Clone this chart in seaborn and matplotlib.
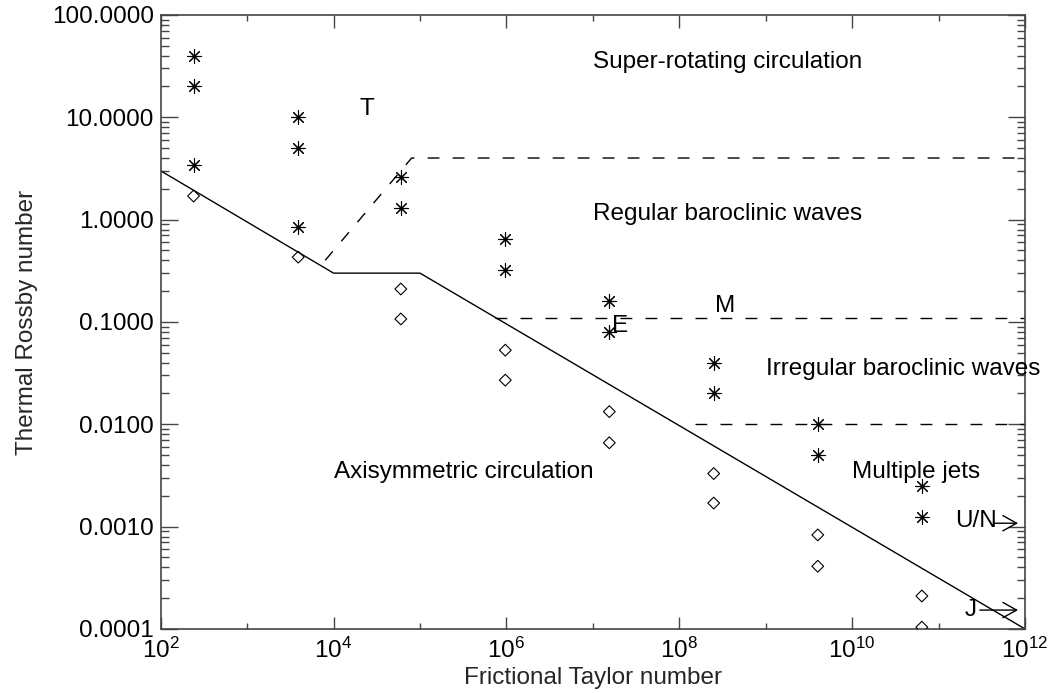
import numpy as np
import pandas as pd
import matplotlib
matplotlib.use("Agg")
import matplotlib.pyplot as plt
import matplotlib.ticker as mticker
import seaborn as sns

# ---- data ----
col_x = [2.4e2, 3.9e3, 6.0e4, 9.7e5, 1.55e7, 2.5e8, 4.0e9, 6.4e10]
star_hi = [40.0, 10.0, 2.6, 0.64, 0.16, 0.040, 0.010, 0.0025]
star_lo = [20.0, 5.0, 1.3, 0.32, 0.080, 0.020, 0.005, 0.00125]
extra_star_x = [2.4e2, 3.9e3]
extra_star_y = [3.4, 0.85]
diam_x = [2.4e2, 3.9e3, 6.0e4, 6.0e4, 9.7e5, 9.7e5, 1.55e7, 1.55e7,
          2.5e8, 2.5e8, 4.0e9, 4.0e9, 6.4e10, 6.4e10]
diam_y = [1.7, 0.43, 0.21, 0.107, 0.053, 0.027, 0.0133, 0.0066,
          0.0033, 0.0017, 0.00083, 0.00041, 0.00021, 0.000104]

# regime boundaries
axi_x = [1e2, 1e4, 1e5, 1e12]
axi_y = [3.0, 0.3, 0.3, 1e-4]
sup_x = [8e3, 8e4, 1e12]
sup_y = [0.4, 4.0, 4.0]
irr_x = [7.4e5, 1e12]
irr_y = [0.11, 0.11]
jet_x = [1.5e8, 1e12]
jet_y = [0.01, 0.01]

x_major = [1e2, 1e4, 1e6, 1e8, 1e10, 1e12]
x_major_labels = [r"$10^{2}$", r"$10^{4}$", r"$10^{6}$", r"$10^{8}$", r"$10^{10}$", r"$10^{12}$"]
x_minor = [1e3, 1e5, 1e7, 1e9, 1e11]
y_major = [1e-4, 1e-3, 1e-2, 1e-1, 1e0, 1e1, 1e2]

labels = ["Super-rotating circulation", "Regular baroclinic waves",
          "Irregular baroclinic waves", "Multiple jets", "Axisymmetric circulation",
          "T", "E", "M", "U/N", "J"]
label_x = [1e7, 1e7, 1e9, 1e10, 1e4, 2.0e4, 1.66e7, 2.6e8, 1.55e11, 2.0e11]
label_y = [30.0, 1.0, 0.03, 0.003, 0.003, 10.5, 0.08, 0.125, 0.001, 0.000135]

arrow_y = [0.00108, 0.000153]
arrow_x0 = [4.3e11, 3.0e11]
arrow_x1 = [8.3e11, 8.3e11]

# ---- style ----
sns.set_style("ticks")
plt.rcParams["font.family"] = ["Liberation Sans", "DejaVu Sans"]
plt.rcParams["mathtext.fontset"] = "custom"
plt.rcParams["mathtext.rm"] = "Liberation Sans"
plt.rcParams["mathtext.it"] = "Liberation Sans"
FS = 17.5

fig = plt.figure(figsize=(10.51, 6.93), dpi=100)
ax = fig.add_axes([0.1529, 0.0924, 0.8224, 0.886])
ax.set_xscale("log")
ax.set_yscale("log")

stars = pd.DataFrame({
    "x": col_x + col_x + extra_star_x,
    "y": star_hi + star_lo + extra_star_y,
})
diam = pd.DataFrame({"x": diam_x, "y": diam_y})

lk = dict(color="black", lw=1.0, sort=False, estimator=None)
sns.lineplot(x=axi_x, y=axi_y, ax=ax, **lk)
for xs, ys in [(sup_x, sup_y), (irr_x, irr_y), (jet_x, jet_y)]:
    sns.lineplot(x=xs, y=ys, ax=ax, linestyle=(0, (8.5, 9.5)), **lk)

sns.scatterplot(data=stars, x="x", y="y", ax=ax, marker=(8, 2, 0), s=95,
                color="black", linewidth=0.8, zorder=5)
sns.scatterplot(data=diam, x="x", y="y", ax=ax, marker="D", s=36,
                facecolor="none", edgecolor="black", linewidth=0.8, zorder=5)

for t, x, y in zip(labels, label_x, label_y):
    ax.text(x, y, t, fontsize=FS, ha="left", va="baseline", color="black")

for y, x0, x1 in zip(arrow_y, arrow_x0, arrow_x1):
    ax.annotate("", xy=(x1, y), xytext=(x0, y),
                arrowprops=dict(arrowstyle="->,head_length=0.45,head_width=0.25",
                                lw=1.0, color="black",
                                mutation_scale=22, shrinkA=0, shrinkB=0))

ax.set_xlim(1e2, 1e12)
ax.set_ylim(1e-4, 1e2)
ax.set_xticks(x_major)
ax.set_xticklabels(x_major_labels)
ax.set_xticks(x_minor, minor=True)
ax.xaxis.set_minor_formatter(mticker.NullFormatter())
ax.set_yticks(y_major)
ax.yaxis.set_major_formatter(mticker.FormatStrFormatter("%.4f"))
ax.yaxis.set_minor_locator(mticker.LogLocator(base=10, subs=np.arange(2, 10), numticks=20))
ax.yaxis.set_minor_formatter(mticker.NullFormatter())

ax.tick_params(axis="both", which="both", direction="in", top=True, right=True,
               colors="#444444", labelcolor="black", width=1.0, labelsize=FS)
ax.tick_params(axis="x", which="major", length=9, pad=6)
ax.tick_params(axis="x", which="minor", length=4.5)
ax.tick_params(axis="y", which="major", length=12, pad=5)
ax.tick_params(axis="y", which="minor", length=6)
for s in ax.spines.values():
    s.set_color("#444444")
    s.set_linewidth(1.2)

ax.set_xlabel("Frictional Taylor number", fontsize=FS, labelpad=3)
ax.set_ylabel("Thermal Rossby number", fontsize=FS, labelpad=10)

fig.savefig("out.png", dpi=100)
